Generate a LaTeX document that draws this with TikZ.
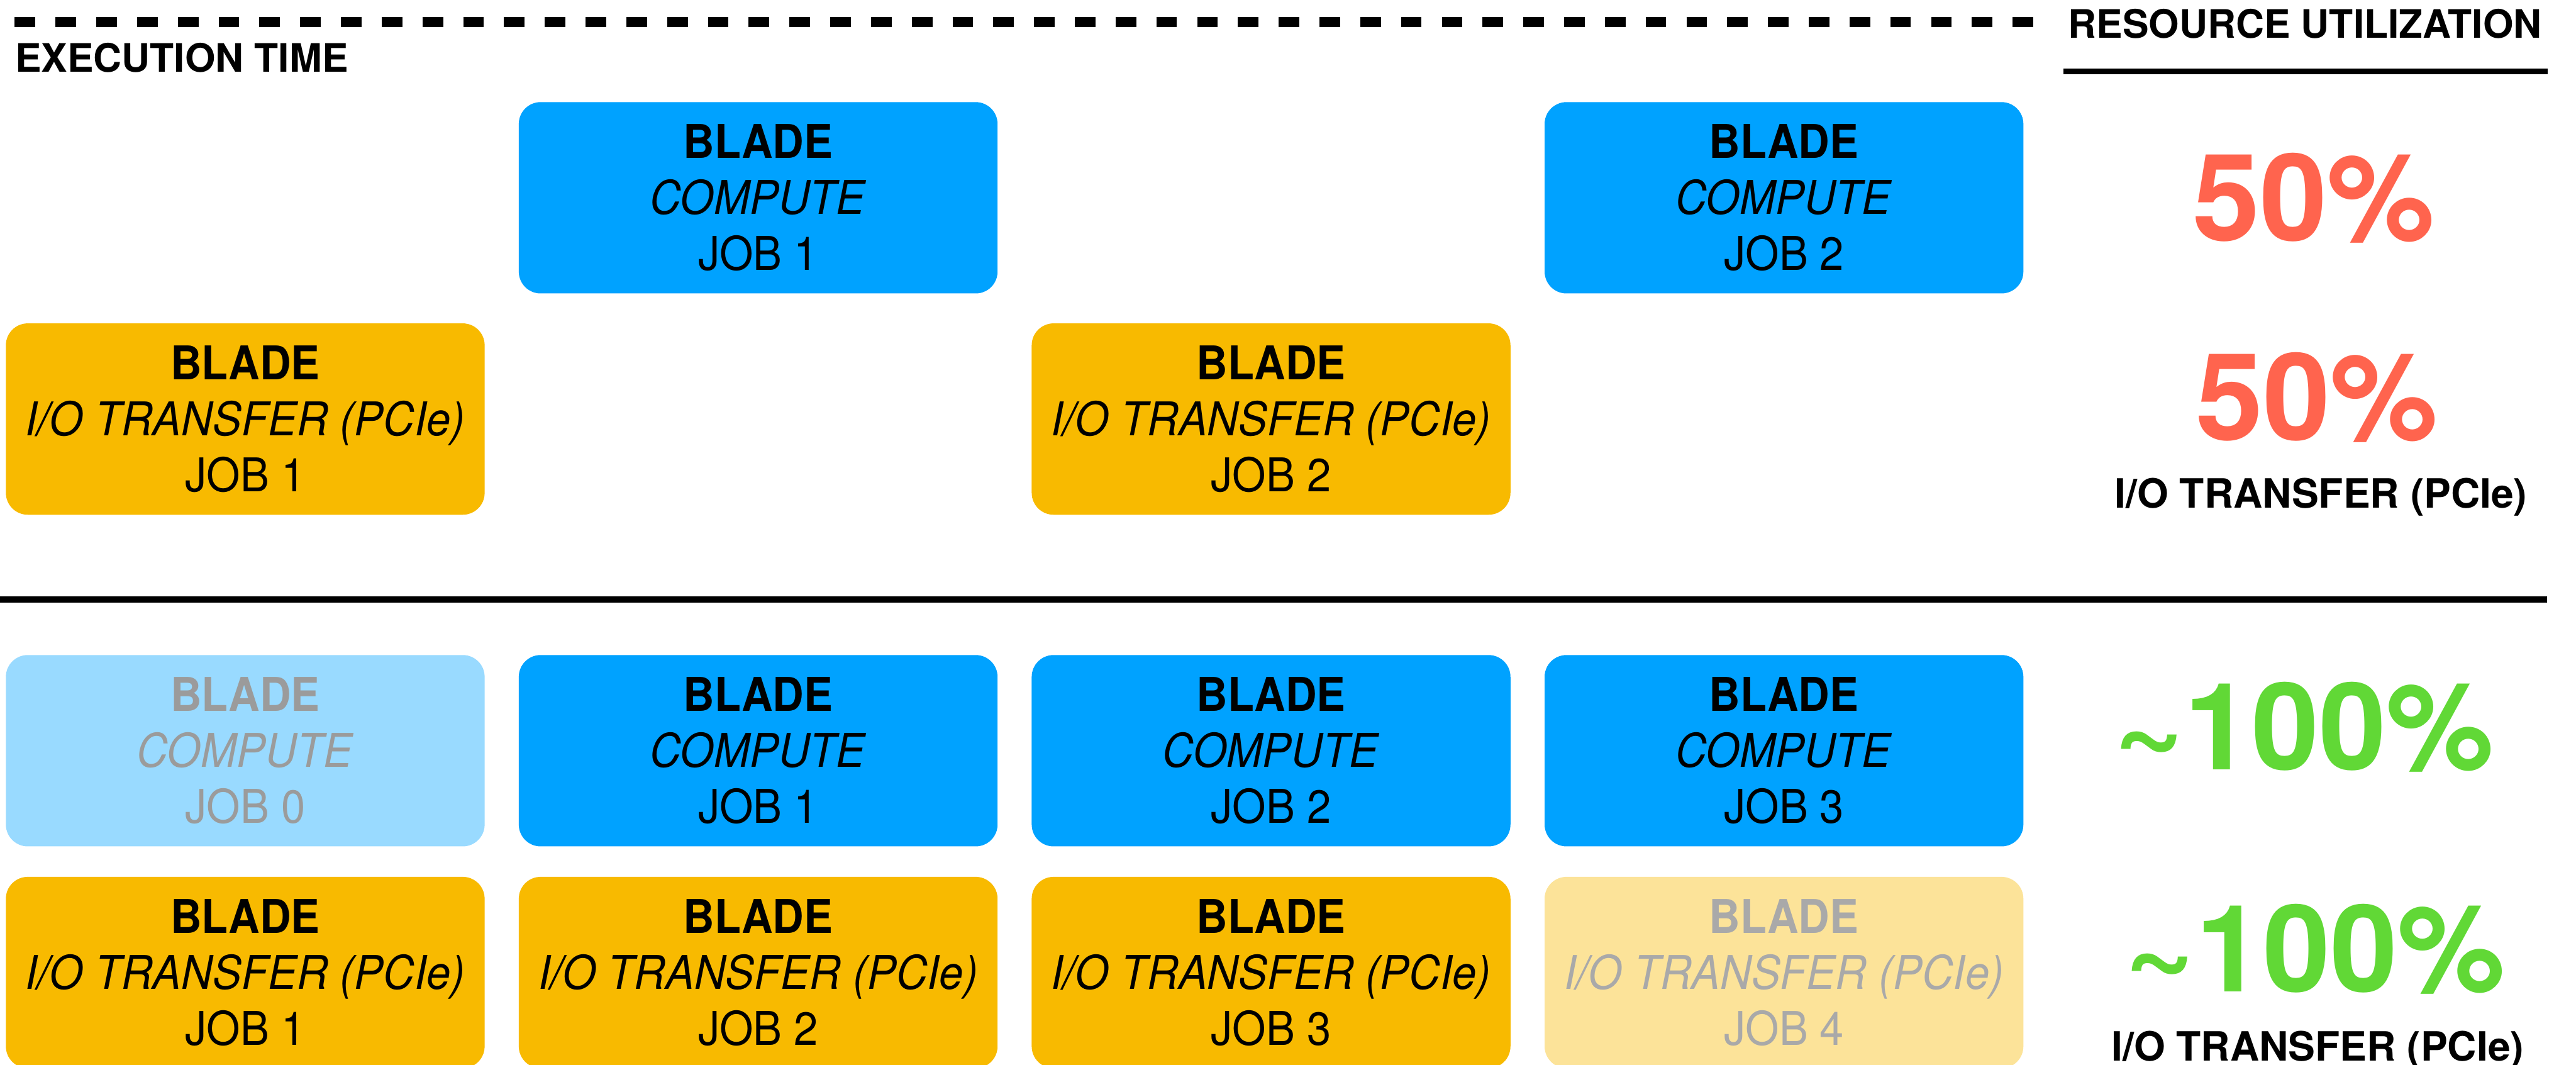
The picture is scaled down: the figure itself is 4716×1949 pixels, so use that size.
\documentclass[tikz,border=0pt]{standalone}
\usepackage{fontspec}
\setmainfont{TeX Gyre Heros}
\newfontfamily\boxfont[FakeStretch=0.93]{TeX Gyre Heros}

\definecolor{computeblue}{HTML}{00A2FF}
\definecolor{ioorange}{HTML}{F8BA00}
\definecolor{computefade}{HTML}{99DAFF}
\definecolor{iofade}{HTML}{FCE399}
\definecolor{fadetextA}{HTML}{9B9B9B}
\definecolor{fadetextB}{HTML}{A9A9A9}
\definecolor{lowred}{HTML}{FF644E}
\definecolor{highgreen}{HTML}{61D836}

\tikzset{
  blade/.style={rounded corners=0.4cm, minimum width=8.76cm, minimum height=3.5cm,
    inner sep=0pt, align=center, text=black,
    font=\boxfont\fontsize{24.2}{29.2}\selectfont},
  computebox/.style={blade, fill=computeblue},
  iobox/.style={blade, fill=ioorange},
  computeidle/.style={blade, fill=computefade, text=fadetextA},
  ioidle/.style={blade, fill=iofade, text=fadetextB},
  heading/.style={inner sep=0pt, font=\bfseries\fontsize{20.4}{24}\selectfont},
  sublabel/.style={inner sep=0pt, anchor=base, font=\bfseries\fontsize{21}{25}\selectfont},
  util/.style={inner sep=0pt, anchor=base, font=\bfseries\fontsize{63}{70}\selectfont},
}

\begin{document}
\begin{tikzpicture}[x=0.01cm, y=-0.01cm]
\useasboundingbox (0,0) rectangle (4716,1949);

% timeline rules
\draw[line width=0.18cm, dash pattern=on 0.377cm off 0.369cm] (27,40) -- (3722,40);
\draw[line width=0.11cm] (3778,130.5) -- (4664,130.5);
\draw[line width=0.11cm] (0,1097.5) -- (4663,1097.5);

% headings
\node[heading, anchor=base west] (exectime) at (27,132) {EXECUTION TIME};
\node[heading, anchor=base] (resutil) at (4220,70) {RESOURCE UTILIZATION};

% sequential schedule
\node[computebox] (sc1) at (1388,362) {\textbf{BLADE}\\\textit{COMPUTE}\\JOB 1};
\node[computebox] (sc2) at (3266,362) {\textbf{BLADE}\\\textit{COMPUTE}\\JOB 2};
\node[iobox] (si1) at (449,767) {\textbf{BLADE}\\\textit{I/O TRANSFER (PCIe)}\\JOB 1};
\node[iobox] (si2) at (2327,767) {\textbf{BLADE}\\\textit{I/O TRANSFER (PCIe)}\\JOB 2};

\node[util, text=lowred] (seqc) at (4236,440) {50\%};
\node[util, text=lowred] (seqi) at (4242,805) {50\%};
\node[sublabel] (seqlabel) at (4249,930) {I/O TRANSFER (PCIe)};

% pipelined schedule
\node[computeidle] (pc0) at (449,1374) {\textbf{BLADE}\\\textit{COMPUTE}\\JOB 0};
\node[computebox] (pc1) at (1388,1374) {\textbf{BLADE}\\\textit{COMPUTE}\\JOB 1};
\node[computebox] (pc2) at (2327,1374) {\textbf{BLADE}\\\textit{COMPUTE}\\JOB 2};
\node[computebox] (pc3) at (3266,1374) {\textbf{BLADE}\\\textit{COMPUTE}\\JOB 3};
\node[iobox] (pi1) at (449,1780) {\textbf{BLADE}\\\textit{I/O TRANSFER (PCIe)}\\JOB 1};
\node[iobox] (pi2) at (1388,1780) {\textbf{BLADE}\\\textit{I/O TRANSFER (PCIe)}\\JOB 2};
\node[iobox] (pi3) at (2327,1780) {\textbf{BLADE}\\\textit{I/O TRANSFER (PCIe)}\\JOB 3};
\node[ioidle] (pi4) at (3266,1780) {\textbf{BLADE}\\\textit{I/O TRANSFER (PCIe)}\\JOB 4};

\node[util, text=highgreen] (pipc) at (4218,1409) {\textasciitilde100\%};
\node[util, text=highgreen] (pipi) at (4238,1815) {\textasciitilde100\%};
\node[sublabel] (piplabel) at (4243,1941.5) {I/O TRANSFER (PCIe)};
\end{tikzpicture}
\end{document}
